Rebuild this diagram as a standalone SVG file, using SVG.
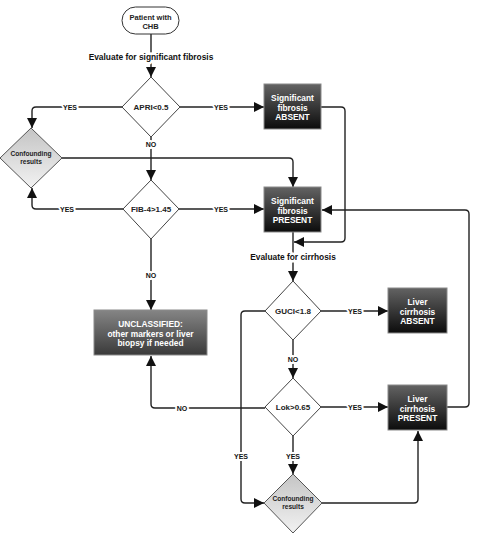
<svg xmlns="http://www.w3.org/2000/svg" width="485" height="546" viewBox="0 0 485 546">
<defs>
<linearGradient id="gDark" x1="0" y1="0" x2="0" y2="1">
<stop offset="0" stop-color="#636363"/>
<stop offset="1" stop-color="#0c0c0c"/>
</linearGradient>
<linearGradient id="gMid" x1="0" y1="0" x2="0" y2="1">
<stop offset="0" stop-color="#858585"/>
<stop offset="1" stop-color="#3a3a3a"/>
</linearGradient>
<linearGradient id="gLight" x1="0" y1="0" x2="0" y2="1">
<stop offset="0" stop-color="#c4c4c4"/>
<stop offset="1" stop-color="#f2f2f2"/>
</linearGradient>
<marker id="arr" markerUnits="userSpaceOnUse" markerWidth="11" markerHeight="11" refX="10" refY="5" orient="auto">
<path d="M0,0 L10,5 L0,10 z" fill="#111"/>
</marker>
<style>
text{font-family:"Liberation Sans",Arial,sans-serif;font-weight:bold;text-anchor:middle}
.conn path{fill:none;stroke:#222;stroke-width:1.4;marker-end:url(#arr)}
.box{stroke:#8a8a8a;stroke-width:1}
.dia{fill:#fff;stroke:#444;stroke-width:1}
.diaG{fill:url(#gLight);stroke:#555;stroke-width:1}
.bt{fill:#fff;font-size:8.4px}
.dt{fill:#222;font-size:8px}
.ct{fill:#222;font-size:6.6px}
.lbl{fill:#111;font-size:7px;stroke:#fff;stroke-width:4;paint-order:stroke;stroke-linejoin:round}
.head{fill:#111;font-size:8.4px;stroke:#fff;stroke-width:5;paint-order:stroke;stroke-linejoin:round}
</style>
</defs>
<rect width="485" height="546" fill="#fff"/>

<g id="connectors" class="conn">
<path d="M151,34 V77"/>
<path d="M122,107 H36 Q32,107 32,111 V128"/>
<path d="M180,107 H264"/>
<path d="M151,137 V180"/>
<path d="M62,158 H289 Q293,158 293,162 V187"/>
<path d="M123,209 H36 Q32,209 32,205 V188"/>
<path d="M179,209 H264"/>
<path d="M151,239 V310"/>
<path d="M321,107 H341 Q345,107 345,111 V238 Q345,242 341,242 H294"/>
<path d="M293,232 V281"/>
<path d="M320,311 H388"/>
<path d="M265,311 H245 Q241,311 241,315 V499 Q241,503 245,503 H264"/>
<path d="M293,340 V378"/>
<path d="M321,407 H388"/>
<path d="M265,408 H155 Q151,408 151,404 V356"/>
<path d="M293,436 V474"/>
<path d="M321,503 H414 Q418,503 418,499 V431"/>
<path d="M447,407 H465 Q469,407 469,403 V214 Q469,210 465,210 H322"/>
</g>

<g id="labels">
<text class="head" x="151" y="60">Evaluate for significant fibrosis</text>
<text class="head" x="293" y="260">Evaluate for cirrhosis</text>
<text class="lbl" x="70" y="109.5">YES</text>
<text class="lbl" x="221" y="109.5">YES</text>
<text class="lbl" x="151" y="147">NO</text>
<text class="lbl" x="67" y="211.5">YES</text>
<text class="lbl" x="221" y="211.5">YES</text>
<text class="lbl" x="151" y="277.5">NO</text>
<text class="lbl" x="355" y="313.5">YES</text>
<text class="lbl" x="293" y="361.5">NO</text>
<text class="lbl" x="355" y="409.5">YES</text>
<text class="lbl" x="182" y="410.5">NO</text>
<text class="lbl" x="293" y="458.5">YES</text>
<text class="lbl" x="241" y="458.5">YES</text>
</g>

<g id="patient">
<rect x="122" y="7" width="57" height="27" rx="13.5" fill="#fff" stroke="#333" stroke-width="1"/>
<text class="dt" x="150.5" y="19.5" style="font-size:7.5px">Patient with</text>
<text class="dt" x="150.5" y="28.5" style="font-size:7.5px">CHB</text>
</g>

<g id="apri">
<polygon class="dia" points="151,77 180,107 151,137 122,107"/>
<text class="dt" x="151" y="110">APRI&lt;0.5</text>
</g>

<g id="confounding1">
<polygon class="diaG" points="31,128 62,158 31,188 0,158"/>
<text class="ct" x="31" y="156">Confounding</text>
<text class="ct" x="31" y="164">results</text>
</g>

<g id="sf-absent">
<rect class="box" x="264" y="84" width="57" height="45" fill="url(#gDark)"/>
<text class="bt" x="292.5" y="101">Significant</text>
<text class="bt" x="292.5" y="110.5">fibrosis</text>
<text class="bt" x="292.5" y="120">ABSENT</text>
</g>

<g id="fib4">
<polygon class="dia" points="151,180 179,209 151,239 123,209"/>
<text class="dt" x="151" y="212">FIB-4&gt;1.45</text>
</g>

<g id="sf-present">
<rect class="box" x="264" y="187" width="57" height="45" fill="url(#gDark)"/>
<text class="bt" x="292.5" y="204">Significant</text>
<text class="bt" x="292.5" y="213.5">fibrosis</text>
<text class="bt" x="292.5" y="223">PRESENT</text>
</g>

<g id="unclassified">
<rect class="box" x="94" y="310" width="113" height="45" fill="url(#gMid)"/>
<text class="bt" x="150.5" y="327">UNCLASSIFIED:</text>
<text class="bt" x="150.5" y="336.5">other markers or liver</text>
<text class="bt" x="150.5" y="346">biopsy if needed</text>
</g>

<g id="guci">
<polygon class="dia" points="293,281 321,311 293,340 265,311"/>
<text class="dt" x="293" y="314">GUCI&lt;1.8</text>
</g>

<g id="lc-absent">
<rect class="box" x="388" y="288" width="59" height="45" fill="url(#gDark)"/>
<text class="bt" x="417.5" y="305">Liver</text>
<text class="bt" x="417.5" y="314.5">cirrhosis</text>
<text class="bt" x="417.5" y="324">ABSENT</text>
</g>

<g id="lok">
<polygon class="dia" points="293,378 321,407 293,436 265,407"/>
<text class="dt" x="293" y="410">Lok&gt;0.65</text>
</g>

<g id="lc-present">
<rect class="box" x="388" y="385" width="59" height="45" fill="url(#gDark)"/>
<text class="bt" x="417.5" y="402">Liver</text>
<text class="bt" x="417.5" y="411.5">cirrhosis</text>
<text class="bt" x="417.5" y="421">PRESENT</text>
</g>

<g id="confounding2">
<polygon class="diaG" points="293,474 322,503 293,533 264,503"/>
<text class="ct" x="293" y="501">Confounding</text>
<text class="ct" x="293" y="509">results</text>
</g>
</svg>
